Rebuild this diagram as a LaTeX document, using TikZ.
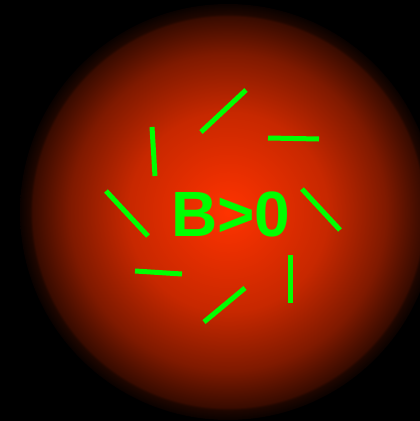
\documentclass[tikz,border=0pt]{standalone}
\usepackage{fontspec}
\setmainfont{Liberation Sans}
\usepackage{xcolor}
\definecolor{fieldgreen}{RGB}{0,255,0}
\definecolor{corefire}{RGB}{255,51,0}
\pgfdeclareradialshading{fireball}{\pgfpoint{0bp}{0bp}}{%
  color(0bp)=(corefire);
  color(12bp)=(corefire!78!black);
  color(19bp)=(corefire!50!black);
  color(23.5bp)=(corefire!22!black);
  color(23.8bp)=(corefire!12!black);
  color(25bp)=(corefire!4!black);
  color(30bp)=(black)}
\tikzset{
  fieldline/.style={draw=fieldgreen, line width=5pt},
  fieldlabel/.style={text=fieldgreen, font=\fontsize{64}{64}\selectfont\bfseries}
}

\begin{document}
\begin{tikzpicture}[x=1pt, y=-1pt]
        \fill[black] (0,0) rectangle (420,421);
        \useasboundingbox (0,0) rectangle (420,421);
        \shade[shading=fireball] (228,212) circle (208);
        \draw[fieldline] (152,127) -- (155,176);
        \draw[fieldline] (201,132) -- (246,90);
        \draw[fieldline] (268,138) -- (319,139);
        \draw[fieldline] (106,191) -- (148,236);
        \draw[fieldline] (302,189) -- (340,230);
        \draw[fieldline] (135,271) -- (182,274);
        \draw[fieldline] (290,255) -- (290,303);
        \draw[fieldline] (204,322) -- (245,288);
        \node[fieldlabel] (label) at (231,214) {B>0};
      \end{tikzpicture}
\end{document}
